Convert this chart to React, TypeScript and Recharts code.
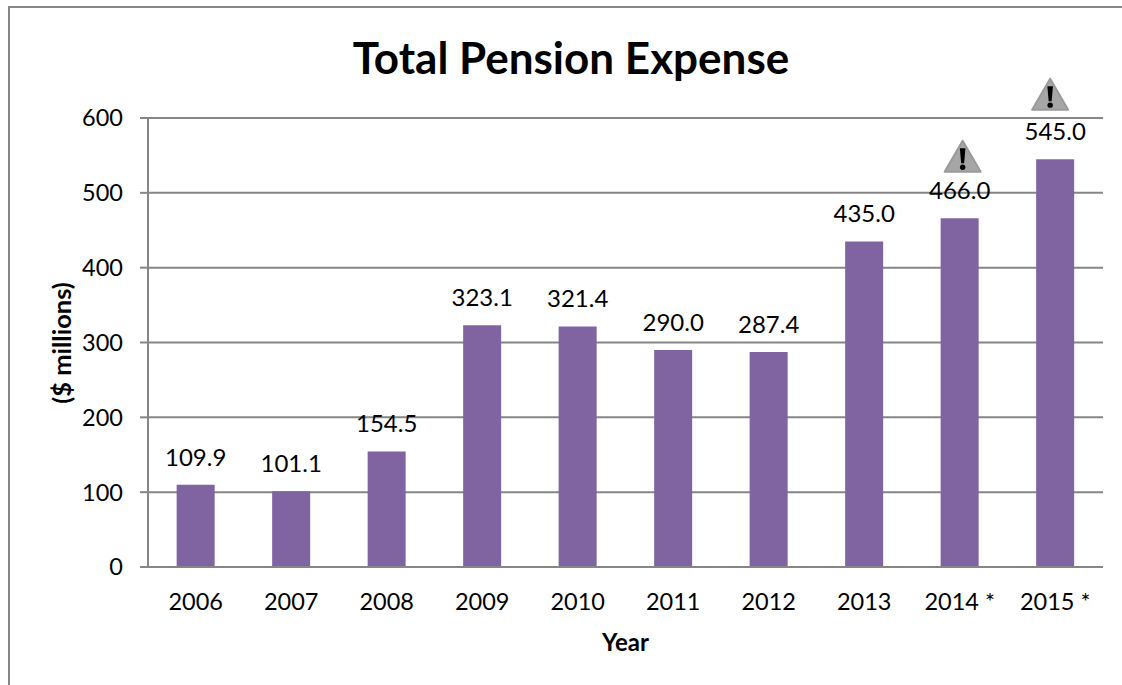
import React from "react";
import { BarChart, Bar, XAxis, YAxis, CartesianGrid, LabelList } from "recharts";

const years = ["2006", "2007", "2008", "2009", "2010", "2011", "2012", "2013", "2014 *", "2015 *"];
const expense = [109.9, 101.1, 154.5, 323.1, 321.4, 290.0, 287.4, 435.0, 466.0, 545.0];
const yTicks = [0, 100, 200, 300, 400, 500, 600];

const rows = years.map((year, i) => ({ year, expense: expense[i] }));

// warning triangles sit a little off-centre above the flagged bars
const warningOffsets: Record<string, { dx: number; dy: number }> = {
  "2014 *": { dx: 3, dy: -62 },
  "2015 *": { dx: -5, dy: -65 },
};

const FONT = "Lato, sans-serif";
const GREY = "#868686";

function ValueLabel(props: any) {
  const { x, y, width, value, index } = props;
  const cx = x + width / 2;
  const warning = warningOffsets[years[index]];
  return (
    <g>
      <text x={cx} y={y - 19} textAnchor="middle" fontSize={24} fontFamily={FONT} fill="#000">
        {value.toFixed(1)}
      </text>
      {warning && (
        <g transform={`translate(${cx + warning.dx}, ${y + warning.dy})`}>
          <path d="M0,-15.5 L18,15.5 L-18,15.5 Z" fill="#a6a6a6" stroke="#9a9a9a" strokeWidth={2} strokeLinejoin="round" />
          <path d="M-2.8,-8 L2.8,-8 L1.5,7 L-1.5,7 Z" fill="#000" />
          <circle cx={0} cy={11} r={2.7} fill="#000" />
        </g>
      )}
    </g>
  );
}

export default function App() {
  return (
    <div style={{ position: "absolute", left: 0, top: 0, width: 1122, height: 685, background: "#fff", overflow: "hidden" }}>
      <div
        style={{
          position: "absolute",
          left: 8,
          top: 6,
          width: 1130,
          height: 700,
          border: `2px solid ${GREY}`,
          boxSizing: "border-box",
        }}
      />
      <BarChart
        width={1122}
        height={685}
        data={rows}
        barCategoryGap="30%"
        margin={{ top: 118, right: 19, bottom: 88, left: 66 }}
        style={{ position: "absolute", left: 0, top: 0 }}
      >
        <text x={571} y={74} textAnchor="middle" fontSize={44} fontWeight={700} fontFamily={FONT} fill="#000">
          Total Pension Expense
        </text>
        <text
          x={0}
          y={0}
          transform="translate(71, 343) rotate(-90)"
          textAnchor="middle"
          fontSize={25.5}
          fontWeight={700}
          fontFamily={FONT}
          fill="#000"
        >
          ($ millions)
        </text>
        <CartesianGrid vertical={false} stroke={GREY} strokeWidth={2} />
        <XAxis
          dataKey="year"
          axisLine={{ stroke: GREY, strokeWidth: 2 }}
          tickLine={false}
          tickMargin={20}
          tick={{ fontSize: 23.5, fontFamily: FONT, fill: "#000" }}
          interval={0}
          label={{ value: "Year", position: "insideBottom", offset: -54, fontSize: 24, fontWeight: 700, fontFamily: FONT, fill: "#000" }}
        />
        <YAxis
          domain={[0, 600]}
          ticks={yTicks}
          width={82}
          axisLine={{ stroke: GREY, strokeWidth: 2 }}
          tickLine={{ stroke: GREY, strokeWidth: 2 }}
          tickSize={8}
          tickMargin={17}
          tick={{ fontSize: 23.5, fontFamily: FONT, fill: "#000" }}
        />
        <Bar dataKey="expense" fill="#8064a2" isAnimationActive={false}>
          <LabelList dataKey="expense" content={<ValueLabel />} />
        </Bar>
      </BarChart>
    </div>
  );
}
